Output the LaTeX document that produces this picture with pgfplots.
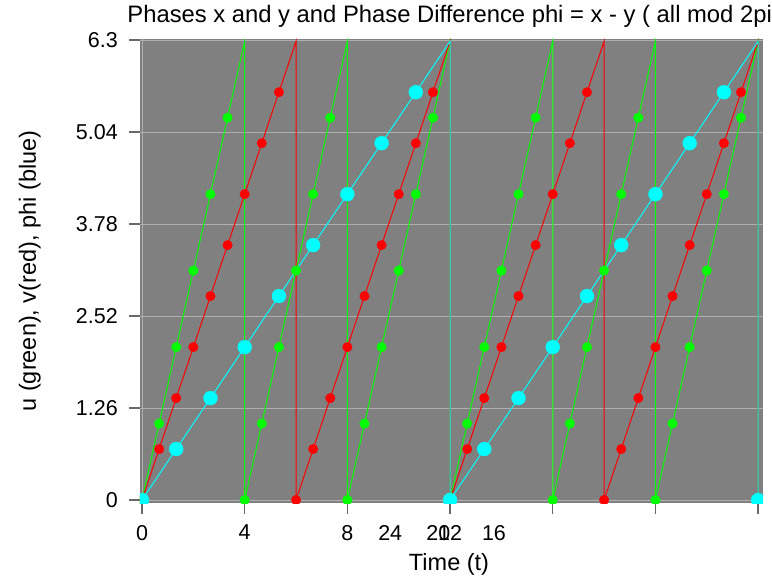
\documentclass[border=0pt]{standalone}
\usepackage{fontspec}
\setmainfont{Liberation Sans}
\usepackage{pgfplots}
\pgfplotsset{compat=1.18}
\definecolor{bggray}{RGB}{128,128,128}
\definecolor{gridgray}{RGB}{175,175,175}
\definecolor{tickgray}{RGB}{105,105,105}
\definecolor{ugreen}{RGB}{0,255,0}
\definecolor{vred}{RGB}{255,0,0}
\definecolor{phicyan}{RGB}{0,255,255}
\begin{document}
\begin{tikzpicture}
\begin{axis}[
  scale only axis, width=623bp, height=464bp,
  xmin=-0.078, xmax=24.19, ymin=-0.041, ymax=6.314,
  axis background/.style={fill=bggray},
  axis line style={draw=none},
  xtick={0,4,8,12,16,20,24},
  xticklabels={0,4,8,12,,,},
  extra x ticks={9.67,11.54,13.71},
  extra x tick labels={24,20,16},
  extra x tick style={xmajorgrids=false, tick style={draw=none}},
  ytick={0,1.26,2.52,3.78,5.04,6.3},
  yticklabels={0,1.26,2.52,3.78,5.04,6.3},
  xtick pos=left, ytick pos=left,
  tick align=outside,
  major tick length=11bp,
  tick style={color=tickgray, line width=1.3bp},
  xmajorgrids, ymajorgrids,
  major grid style={color=gridgray, line width=1bp},
  ticklabel style={font=\fontsize{21.5bp}{25bp}\selectfont, inner sep=0pt},
  xticklabel style={anchor=north, yshift=-11bp},
  yticklabel style={anchor=east, xshift=-11bp},
  xlabel={Time (t)},
  xlabel style={at={(axis description cs:0.496,0)}, anchor=base, yshift=-67bp, inner sep=0pt, font=\fontsize{23.5bp}{28bp}\selectfont},
  ylabel={u (green), v(red), phi (blue)},
  ylabel style={at={(axis description cs:-0.159,0.5)}, anchor=south, inner sep=0pt, font=\fontsize{23.5bp}{28bp}\selectfont},
  title={Phases x and y and Phase Difference phi = x - y ( all mod 2pi )},
  title style={at={(axis description cs:-0.0205,1)}, anchor=base west, yshift=10.7bp, inner sep=0pt, font=\fontsize{23.8bp}{28bp}\selectfont},
  clip marker paths=true,
]
% ---- lines ----
\addplot[ugreen, line width=1bp, mark=none] coordinates {
 (0,0) (0.667,1.047) (1.333,2.094) (2,3.142) (2.667,4.189) (3.333,5.236) (4,6.283)
 (4,0) (4.667,1.047) (5.333,2.094) (6,3.142) (6.667,4.189) (7.333,5.236) (8,6.283)
 (8,0) (8.667,1.047) (9.333,2.094) (10,3.142) (10.667,4.189) (11.333,5.236) (12,6.283)
 (12,0) (12.667,1.047) (13.333,2.094) (14,3.142) (14.667,4.189) (15.333,5.236) (16,6.283)
 (16,0) (16.667,1.047) (17.333,2.094) (18,3.142) (18.667,4.189) (19.333,5.236) (20,6.283)
 (20,0) (20.667,1.047) (21.333,2.094) (22,3.142) (22.667,4.189) (23.333,5.236) (24,6.283)
 (24,0)
};
\addplot[vred, line width=1bp, mark=none] coordinates {
 (0,0) (0.667,0.698) (1.333,1.396) (2,2.094) (2.667,2.793) (3.333,3.491) (4,4.189) (4.667,4.887) (5.333,5.585) (6,6.283)
 (6,0) (6.667,0.698) (7.333,1.396) (8,2.094) (8.667,2.793) (9.333,3.491) (10,4.189) (10.667,4.887) (11.333,5.585) (12,6.283)
 (12,0) (12.667,0.698) (13.333,1.396) (14,2.094) (14.667,2.793) (15.333,3.491) (16,4.189) (16.667,4.887) (17.333,5.585) (18,6.283)
 (18,0) (18.667,0.698) (19.333,1.396) (20,2.094) (20.667,2.793) (21.333,3.491) (22,4.189) (22.667,4.887) (23.333,5.585) (24,6.283)
 (24,0)
};
\addplot[phicyan, line width=1bp, mark=none] coordinates {
 (0,0) (1.333,0.698) (2.667,1.396) (4,2.094) (5.333,2.793) (6.667,3.491) (8,4.189) (9.333,4.887) (10.667,5.585) (12,6.283)
 (12,0) (13.333,0.698) (14.667,1.396) (16,2.094) (17.333,2.793) (18.667,3.491) (20,4.189) (21.333,4.887) (22.667,5.585) (24,6.283)
 (24,0)
};
% ---- markers ----
\addplot[only marks, mark=*, mark size=4.8bp, mark options={fill=ugreen, draw=ugreen, line width=0.3bp}] coordinates {
 (0,0) (0.667,1.047) (1.333,2.094) (2,3.142) (2.667,4.189) (3.333,5.236)
 (4,0) (4.667,1.047) (5.333,2.094) (6,3.142) (6.667,4.189) (7.333,5.236)
 (8,0) (8.667,1.047) (9.333,2.094) (10,3.142) (10.667,4.189) (11.333,5.236)
 (12,0) (12.667,1.047) (13.333,2.094) (14,3.142) (14.667,4.189) (15.333,5.236)
 (16,0) (16.667,1.047) (17.333,2.094) (18,3.142) (18.667,4.189) (19.333,5.236)
 (20,0) (20.667,1.047) (21.333,2.094) (22,3.142) (22.667,4.189) (23.333,5.236)
 (24,0)
};
\addplot[only marks, mark=*, mark size=4.8bp, mark options={fill=vred, draw=vred, line width=0.3bp}] coordinates {
 (0,0) (0.667,0.698) (1.333,1.396) (2,2.094) (2.667,2.793) (3.333,3.491) (4,4.189) (4.667,4.887) (5.333,5.585)
 (6,0) (6.667,0.698) (7.333,1.396) (8,2.094) (8.667,2.793) (9.333,3.491) (10,4.189) (10.667,4.887) (11.333,5.585)
 (12,0) (12.667,0.698) (13.333,1.396) (14,2.094) (14.667,2.793) (15.333,3.491) (16,4.189) (16.667,4.887) (17.333,5.585)
 (18,0) (18.667,0.698) (19.333,1.396) (20,2.094) (20.667,2.793) (21.333,3.491) (22,4.189) (22.667,4.887) (23.333,5.585)
 (24,0)
};
\addplot[only marks, mark=*, mark size=7bp, mark options={fill=phicyan, draw=phicyan, line width=0.3bp}] coordinates {
 (0,0) (1.333,0.698) (2.667,1.396) (4,2.094) (5.333,2.793) (6.667,3.491) (8,4.189) (9.333,4.887) (10.667,5.585)
 (12,0) (13.333,0.698) (14.667,1.396) (16,2.094) (17.333,2.793) (18.667,3.491) (20,4.189) (21.333,4.887) (22.667,5.585)
 (24,0)
};
\end{axis}
\pgfresetboundingbox
\useasboundingbox (-140bp,-73bp) rectangle (632bp,503bp);
\end{tikzpicture}
\end{document}
